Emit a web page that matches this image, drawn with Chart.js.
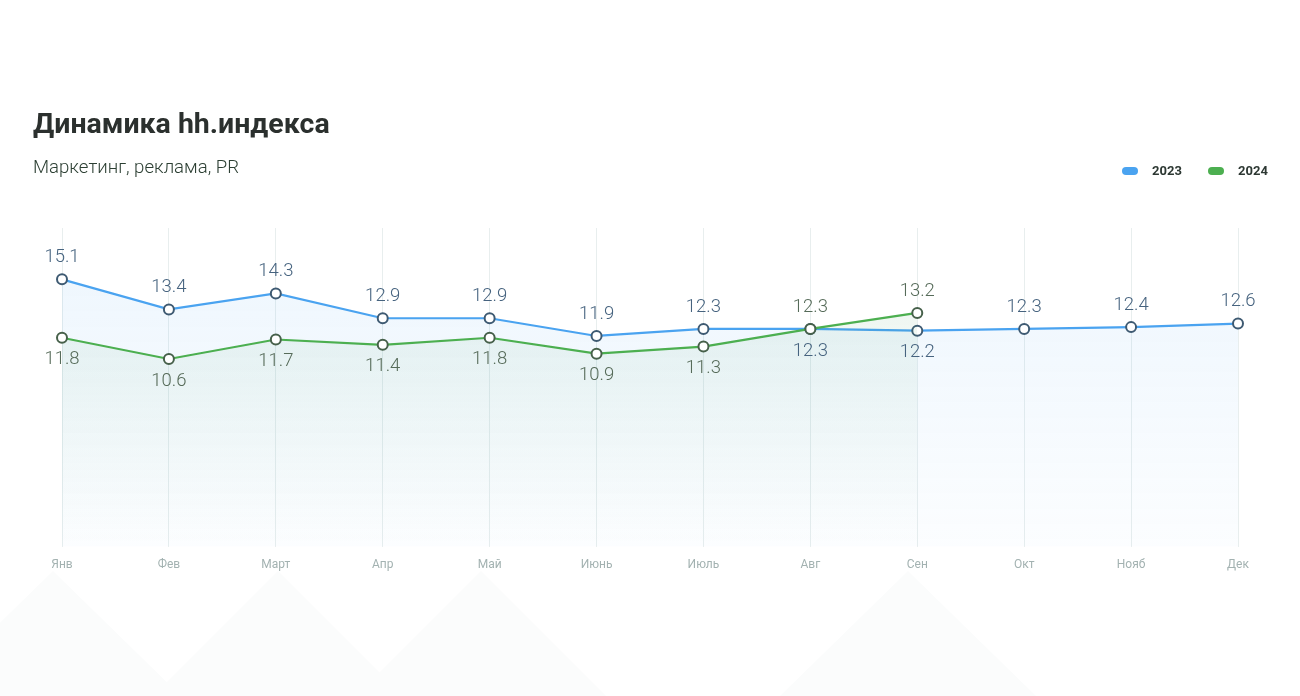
<!DOCTYPE html>
<html lang="ru">
<head>
<meta charset="utf-8">
<script src="https://cdn.jsdelivr.net/npm/chart.js@4.4.1/dist/chart.umd.min.js"></script>
<style>
  html, body { margin: 0; padding: 0; background: #ffffff; }
  #wrap { position: relative; width: 1300px; height: 696px; overflow: hidden; background: #ffffff; font-family: Roboto, "Noto Sans", sans-serif; }
  #bg { position: absolute; left: 0; top: 0; }
  #c { position: absolute; left: 0; top: 0; }
  #title { position: absolute; left: 33px; top: 107px; font-size: 28.5px; font-weight: 700; color: #2b302e; white-space: nowrap; }
  #subtitle { position: absolute; left: 33px; top: 156px; font-size: 18.6px; font-weight: 300; color: #2c3f33; white-space: nowrap; }
  .leg { position: absolute; top: 163px; display: flex; align-items: center; font-size: 13px; font-weight: 700; color: #2d3833; }
  .pill { width: 16px; height: 8px; border-radius: 4px; margin-right: 14px; }
</style>
</head>
<body>
<div id="wrap">
  <svg id="bg" width="1300" height="696">
    <g fill="#fbfcfc">
      <polygon points="53,571 181,696 -75,696"/>
      <polygon points="278,571 403,696 153,696"/>
      <polygon points="481,571 606,696 356,696"/>
      <polygon points="908,571 1036,696 780,696"/>
    </g>
  </svg>
  <canvas id="c" width="1300" height="696"></canvas>
  <div id="title">Динамика hh.индекса</div>
  <div id="subtitle">Маркетинг, реклама, PR</div>
  <div class="leg" style="left:1122px"><div class="pill" style="background:#4aa3f0"></div><span>2023</span></div>
  <div class="leg" style="left:1208px"><div class="pill" style="background:#4caf50"></div><span>2024</span></div>
</div>
<script>
const categories = ['Янв', 'Фев', 'Март', 'Апр', 'Май', 'Июнь', 'Июль', 'Авг', 'Сен', 'Окт', 'Нояб', 'Дек'];
const values2023 = [15.1, 13.4, 14.3, 12.9, 12.9, 11.9, 12.3, 12.3, 12.2, 12.3, 12.4, 12.6];
const values2024 = [11.8, 10.6, 11.7, 11.4, 11.8, 10.9, 11.3, 12.3, 13.2, null, null, null];
const seriesNames = ['2023', '2024'];

function grad(ctx, chart, top, bottom) {
  const a = chart.chartArea;
  if (!a) return top;
  const g = ctx.createLinearGradient(0, a.top, 0, a.bottom);
  g.addColorStop(0, top);
  g.addColorStop(1, bottom);
  return g;
}

const labelPlugin = {
  id: 'valueLabels',
  afterDatasetsDraw(chart) {
    const ctx = chart.ctx;
    const m23 = chart.getDatasetMeta(0);
    const m24 = chart.getDatasetMeta(1);
    ctx.save();
    ctx.font = '300 18.5px Roboto, "Noto Sans", sans-serif';
    ctx.textAlign = 'center';
    ctx.textBaseline = 'middle';
    for (let i = 0; i < categories.length; i++) {
      const v23 = values2023[i];
      const v24 = values2024[i];
      const p23 = m23.data[i];
      const p24 = m24.data[i];
      let above23 = true;
      if (v24 !== null && v24 !== undefined) {
        const above24 = v24 >= v23;
        above23 = !above24;
        ctx.fillStyle = '#566b59';
        ctx.fillText(v24.toFixed(1), p24.x, above24 ? p24.y - 22 : p24.y + 22);
      }
      if (v23 !== null && v23 !== undefined) {
        ctx.fillStyle = '#46637f';
        ctx.fillText(v23.toFixed(1), p23.x, above23 ? p23.y - 22 : p23.y + 22);
      }
    }
    ctx.restore();
  }
};

new Chart(document.getElementById('c'), {
  type: 'line',
  data: {
    labels: categories,
    datasets: [
      {
        label: seriesNames[0],
        data: values2023,
        borderColor: '#4aa3f0',
        borderWidth: 2.2,
        tension: 0,
        fill: 'origin',
        backgroundColor: (c) => grad(c.chart.ctx, c.chart, 'rgba(74,163,240,0.10)', 'rgba(74,163,240,0.02)'),
        pointRadius: 5,
        pointBorderWidth: 2,
        pointBackgroundColor: '#ffffff',
        pointBorderColor: '#3e5a72',
        order: 1,
        clip: false
      },
      {
        label: seriesNames[1],
        data: values2024,
        borderColor: '#4caf50',
        borderWidth: 2.2,
        tension: 0,
        fill: 'origin',
        backgroundColor: (c) => grad(c.chart.ctx, c.chart, 'rgba(60,150,90,0.11)', 'rgba(60,150,90,0.0)'),
        pointRadius: 5,
        pointBorderWidth: 2,
        pointBackgroundColor: '#ffffff',
        pointBorderColor: '#46604a',
        order: 0,
        spanGaps: false,
        clip: false
      }
    ]
  },
  options: {
    responsive: false,
    animation: false,
    layout: { padding: { left: 62, right: 62, top: 228, bottom: 113 } },
    plugins: {
      legend: { display: false },
      tooltip: { enabled: false },
      title: { display: false }
    },
    scales: {
      x: {
        offset: false,
        grid: { display: true, color: '#e8eeee', lineWidth: 1, drawTicks: false },
        border: { display: false },
        ticks: {
          padding: 11,
          color: '#a3b2b1',
          font: { family: 'Roboto, "Noto Sans", sans-serif', size: 12 },
          maxRotation: 0,
          autoSkip: false
        }
      },
      y: {
        display: false,
        min: 0,
        max: 18
      }
    }
  },
  plugins: [labelPlugin]
});
</script>
</body>
</html>
